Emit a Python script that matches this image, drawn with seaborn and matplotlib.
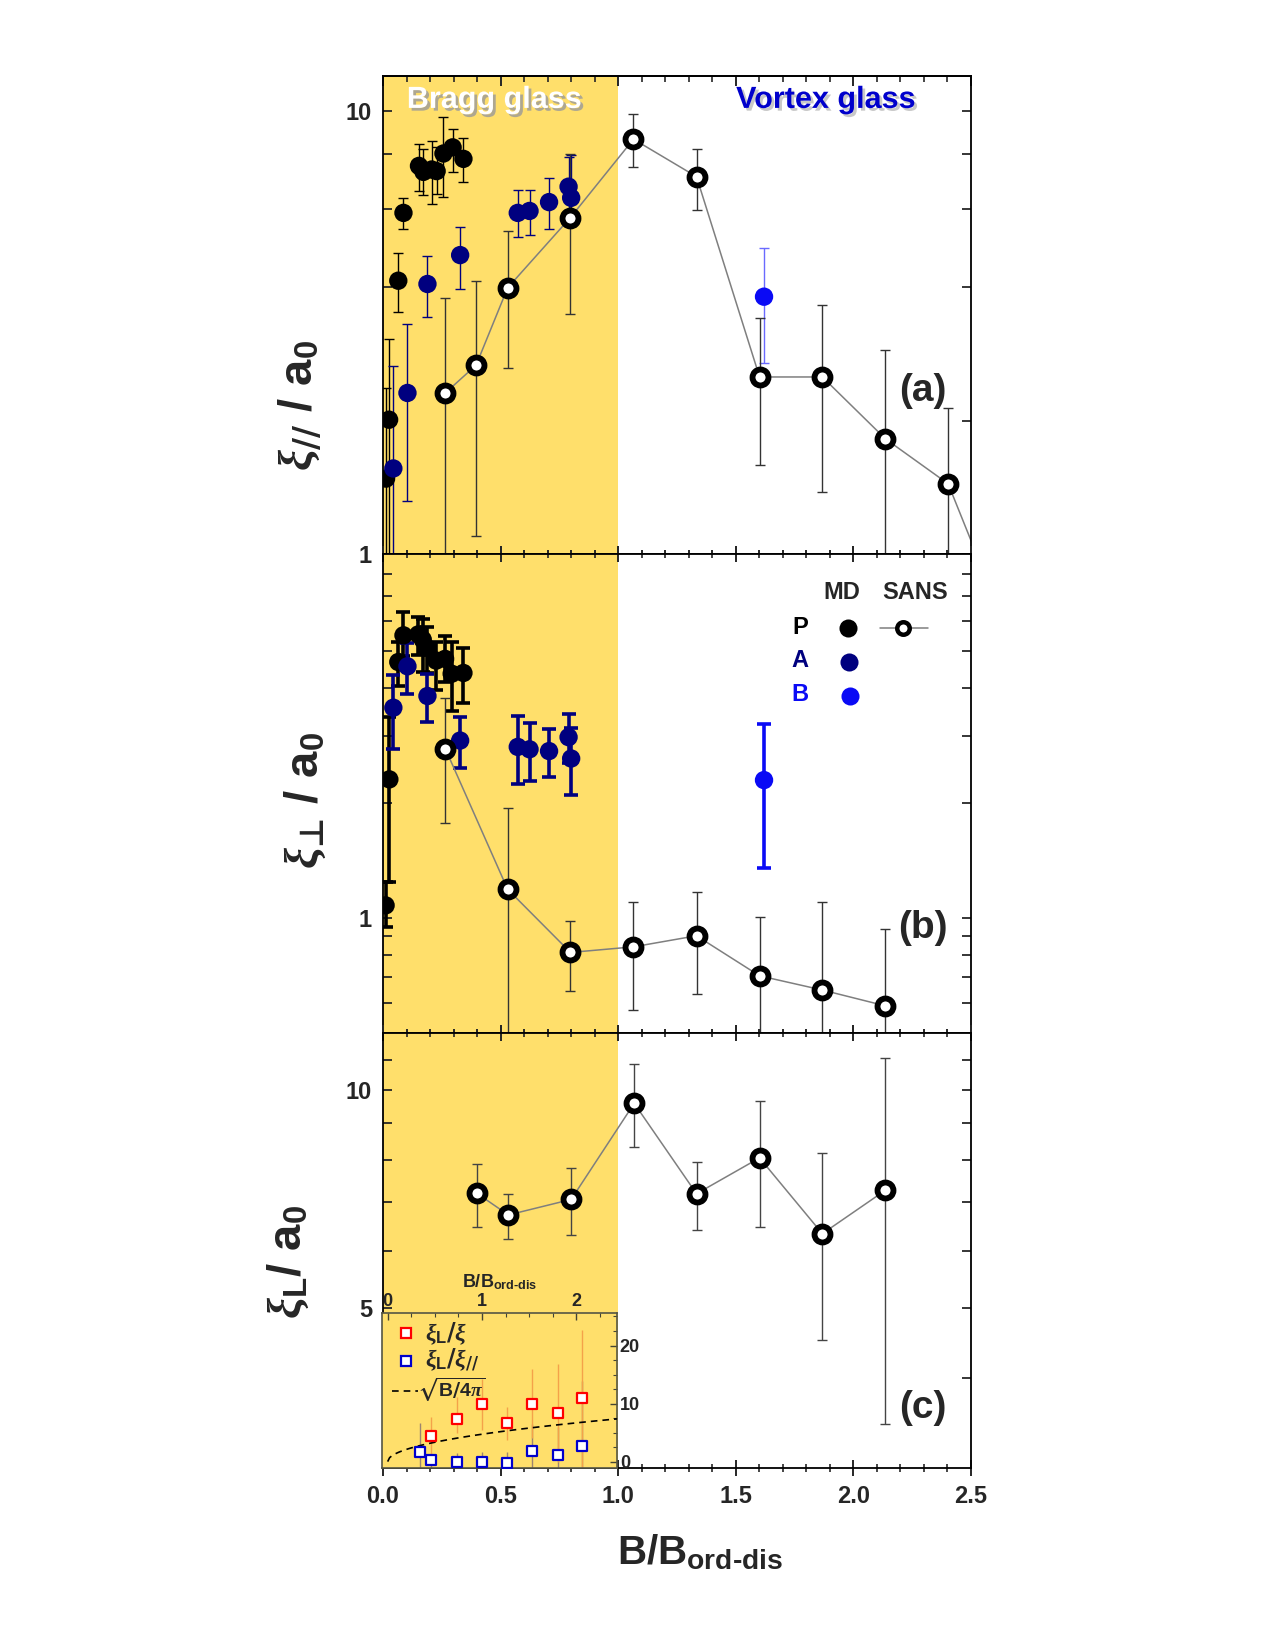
import numpy as np
import matplotlib
matplotlib.use('Agg')
import matplotlib.pyplot as plt
import matplotlib.ticker as mticker
import matplotlib.patheffects as pe
import seaborn as sns

# ---------------- data ----------------
# panel (a): xi_parallel / a0
a_P_x = [0.013, 0.026, 0.065, 0.087, 0.153, 0.172, 0.207, 0.228, 0.257, 0.296, 0.342]
a_P_y = [1.48, 2.01, 4.14, 5.89, 7.52, 7.29, 7.38, 7.32, 8.02, 8.28, 7.80]
a_P_hi = [2.37, 3.05, 4.77, 6.38, 8.41, 8.23, 8.57, 8.30, 9.69, 9.12, 8.68]
a_P_lo = [0.5, 0.5, 3.51, 5.41, 6.61, 6.46, 6.16, 6.50, 6.39, 7.28, 6.90]

a_A_x = [0.044, 0.104, 0.189, 0.328, 0.573, 0.623, 0.706, 0.789, 0.800]
a_A_y = [1.56, 2.31, 4.07, 4.73, 5.89, 5.95, 6.23, 6.75, 6.37]
a_A_hi = [2.66, 3.30, 4.71, 5.47, 6.63, 6.65, 7.05, 7.86, 7.95]
a_A_lo = [0.5, 1.32, 3.42, 3.96, 5.20, 5.25, 5.41, 5.90, 5.50]

a_B_x = [1.62]
a_B_y = [3.81]
a_B_hi = [4.91]
a_B_lo = [2.70]

a_S_x = [0.265, 0.396, 0.530, 0.797, 1.065, 1.333, 1.601, 1.868, 2.136, 2.403, 2.670]
a_S_y = [2.31, 2.67, 3.99, 5.75, 8.64, 7.11, 2.51, 2.51, 1.82, 1.44, 0.64]
a_S_hi = [3.79, 4.14, 5.35, 7.98, 9.86, 8.21, 3.41, 3.64, 2.89, 2.14, 0.90]
a_S_lo = [0.5, 1.10, 2.63, 3.49, 7.46, 5.98, 1.59, 1.38, 0.5, 0.5, 0.40]

# panel (b): xi_perp / a0
b_P_x = [0.011, 0.027, 0.065, 0.087, 0.150, 0.169, 0.186, 0.226, 0.264, 0.292, 0.342]
b_P_y = [1.08, 2.31, 4.69, 5.51, 5.54, 5.37, 5.11, 4.73, 4.78, 4.37, 4.39]
b_P_hi = [1.24, 3.36, 5.30, 6.34, 6.15, 6.07, 5.80, 5.30, 5.48, 5.30, 5.11]
b_P_lo = [0.95, 1.24, 4.05, 4.85, 4.90, 4.41, 4.40, 3.95, 4.16, 3.49, 3.66]

b_A_x = [0.044, 0.104, 0.189, 0.328, 0.573, 0.623, 0.706, 0.789, 0.800]
b_A_y = [3.56, 4.57, 3.82, 2.92, 2.81, 2.77, 2.74, 2.98, 2.62]
b_A_hi = [4.33, 5.27, 4.37, 3.36, 3.39, 3.25, 3.14, 3.43, 3.15]
b_A_lo = [2.77, 3.87, 3.26, 2.47, 2.24, 2.29, 2.34, 2.55, 2.10]

b_B_x = [1.62]
b_B_y = [2.30]
b_B_hi = [3.22]
b_B_lo = [1.357]

b_S_x = [0.265, 0.530, 0.797, 1.065, 1.333, 1.601, 1.868, 2.136]
b_S_y = [2.78, 1.19, 0.813, 0.841, 0.899, 0.706, 0.648, 0.589]
b_S_hi = [3.78, 1.94, 0.984, 1.10, 1.17, 1.004, 1.10, 0.934]
b_S_lo = [1.78, 0.3, 0.644, 0.576, 0.631, 0.3, 0.3, 0.3]

# panel (c): xi_L / a0
c_S_x = [0.399, 0.533, 0.800, 1.068, 1.333, 1.601, 1.868, 2.136]
c_S_y = [7.20, 6.72, 7.06, 9.59, 7.19, 8.06, 6.33, 7.27]
c_S_hi = [7.91, 7.19, 7.81, 10.87, 7.96, 9.65, 8.18, 11.09]
c_S_lo = [6.47, 6.23, 6.30, 8.35, 6.40, 6.47, 4.51, 3.45]

# inset
in_R_x = [0.46, 0.73, 1.00, 1.26, 1.53, 1.80, 2.06]
in_R_y = [4.39, 7.35, 10.0, 6.60, 10.0, 8.40, 11.0]
in_R_hi = [7.6, 11.2, 14.3, 9.35, 16.0, 16.75, 22.7]
in_R_lo = [1.1, 4.9, 5.5, 3.8, 4.05, 0.0, -1.1]

in_B_x = [0.34, 0.46, 0.73, 1.00, 1.26, 1.53, 1.80, 2.06]
in_B_y = [1.6, 0.34, 0.0, -0.1, -0.2, 1.88, 1.2, 2.73]
in_B_hi = [6.7, 1.5, 1.5, 1.7, 1.6, 6.5, 6.0, 13.9]
in_B_lo = [-1.1, -1.1, -1.1, -1.1, -1.1, -1.1, -1.1, -1.1]

B_ORD_DIS = 280.0  # field scale used for sqrt(B/4pi) curve

x_ticks = [0.0, 0.5, 1.0, 1.5, 2.0, 2.5]
x_ticklabels = ['0.0', '0.5', '1.0', '1.5', '2.0', '2.5']

# ---------------- style ----------------
sns.set_theme(style='ticks')
plt.rcParams.update({
    'font.family': ['Liberation Sans', 'DejaVu Sans'],
    'font.weight': 'bold',
    'mathtext.fontset': 'custom',
    'mathtext.rm': 'DejaVu Sans',
    'mathtext.bf': 'Liberation Sans:bold',
    'mathtext.it': 'Liberation Serif:italic',
    'mathtext.sf': 'Liberation Sans:bold',
    'mathtext.fallback': 'stixsans',
    'axes.linewidth': 1.3,
    'axes.edgecolor': 'black',
})

YELLOW = '#FFDF6B'
NAVY = '#00007F'
BLUE = '#0A0AF5'
VBLUE = '#0000CC'

fig = plt.figure(figsize=(12.75, 16.5), dpi=100)
L, W = 383 / 1275, 588 / 1275


def rect(top, bottom):
    return [L, 1 - bottom / 1650, W, (bottom - top) / 1650]


ax_a = fig.add_axes(rect(76, 554))
ax_b = fig.add_axes(rect(554, 1033), sharex=ax_a)
ax_c = fig.add_axes(rect(1033, 1468), sharex=ax_a)


def err(ax, x, y, lo, hi, color, lw, cap, z):
    y = np.asarray(y, float)
    yerr = [y - np.asarray(lo, float), np.asarray(hi, float) - y]
    ax.errorbar(x, y, yerr=yerr, fmt='none', ecolor=color, elinewidth=lw,
                capsize=cap, capthick=lw, zorder=z)


def dots(ax, x, y, color, z, s=175):
    sns.scatterplot(x=x, y=y, ax=ax, color=color, s=s, edgecolor='none',
                    linewidth=0, zorder=z, legend=False)


def sans(ax, x, y):
    sns.lineplot(x=x, y=y, ax=ax, color='#7f7f7f', lw=1.1, marker='o',
                 markersize=11.5, markeredgewidth=4.2, markeredgecolor='black',
                 markerfacecolor='white', estimator=None, sort=False, zorder=6,
                 legend=False)


for ax in (ax_a, ax_b, ax_c):
    ax.axvspan(0, 1.0, color=YELLOW, lw=0, zorder=0)
    ax.set_yscale('log')

# panel (a)
err(ax_a, a_P_x, a_P_y, a_P_lo, a_P_hi, 'black', 1.0, 3.5, 2)
err(ax_a, a_A_x, a_A_y, a_A_lo, a_A_hi, NAVY, 1.0, 3.5, 2)
err(ax_a, a_B_x, a_B_y, a_B_lo, a_B_hi, '#6a6aff', 1.0, 3.5, 2)
err(ax_a, a_S_x, a_S_y, a_S_lo, a_S_hi, '#333333', 1.0, 3.5, 3)
dots(ax_a, a_P_x, a_P_y, 'black', 4)
dots(ax_a, a_A_x, a_A_y, NAVY, 4)
dots(ax_a, a_B_x, a_B_y, BLUE, 4)
sans(ax_a, a_S_x, a_S_y)
ax_a.set_ylim(1, 12)
ax_a.yaxis.set_major_locator(mticker.FixedLocator([1, 10]))
ax_a.yaxis.set_minor_locator(mticker.FixedLocator([2, 4, 6, 8]))

# panel (b)
err(ax_b, b_P_x, b_P_y, b_P_lo, b_P_hi, 'black', 2.6, 5, 2)
err(ax_b, b_A_x, b_A_y, b_A_lo, b_A_hi, NAVY, 2.6, 5, 2)
err(ax_b, b_B_x, b_B_y, b_B_lo, b_B_hi, BLUE, 2.6, 5, 2)
err(ax_b, b_S_x, b_S_y, b_S_lo, b_S_hi, '#333333', 1.0, 3.5, 3)
dots(ax_b, b_P_x, b_P_y, 'black', 4)
dots(ax_b, b_A_x, b_A_y, NAVY, 4)
dots(ax_b, b_B_x, b_B_y, BLUE, 4)
sans(ax_b, b_S_x, b_S_y)
ax_b.set_ylim(0.5, 9)
ax_b.yaxis.set_major_locator(mticker.FixedLocator([1]))
ax_b.yaxis.set_minor_locator(mticker.FixedLocator([0.6, 0.7, 0.8, 0.9, 2, 3, 4, 5, 6, 7, 8]))

# panel (c)
err(ax_c, c_S_x, c_S_y, c_S_lo, c_S_hi, '#444444', 1.0, 3.5, 3)
sans(ax_c, c_S_x, c_S_y)
ax_c.set_ylim(3, 12)
ax_c.yaxis.set_major_locator(mticker.FixedLocator([5, 10]))
ax_c.yaxis.set_minor_locator(mticker.FixedLocator([4, 6, 7, 8, 9, 11]))

for ax in (ax_a, ax_b, ax_c):
    ax.set_xlim(0, 2.5)
    ax.yaxis.set_major_formatter(mticker.FuncFormatter(lambda v, p: '%g' % v))
    ax.yaxis.set_minor_formatter(mticker.NullFormatter())
    ax.xaxis.set_major_locator(mticker.FixedLocator(x_ticks))
    ax.xaxis.set_minor_locator(mticker.MultipleLocator(0.1))
    ax.tick_params(axis='x', which='major', direction='inout', length=12, width=1.4,
                   top=True, bottom=True)
    ax.tick_params(axis='x', which='minor', direction='inout', length=6, width=1.2,
                   top=True, bottom=True)
    ax.tick_params(axis='y', which='both', direction='in', length=6.5, width=1.3,
                   left=True, right=True, labelsize=17, pad=8)
    ax.set_xlabel('')
    ax.set_ylabel('')
    for sp in ax.spines.values():
        sp.set_linewidth(1.3)
        sp.set_zorder(10)

# top edge of panel (a): inward ticks only
ax_a.tick_params(axis='x', which='both', top=False, labelbottom=False)
sec = ax_a.secondary_xaxis('top')
sec.xaxis.set_major_locator(mticker.FixedLocator(x_ticks))
sec.xaxis.set_minor_locator(mticker.MultipleLocator(0.1))
sec.tick_params(axis='x', which='major', direction='in', length=7, width=1.4, labeltop=False)
sec.tick_params(axis='x', which='minor', direction='in', length=4, width=1.2)
sec.spines['top'].set_linewidth(1.3)

ax_b.tick_params(axis='x', labelbottom=False)
ax_c.set_xticks(x_ticks)
ax_c.set_xticklabels(x_ticklabels)
ax_c.tick_params(axis='x', labelsize=17, pad=6)

# texts
shadow = [pe.withSimplePatchShadow(offset=(2, -2), shadow_rgbFace='#9a9a9a', alpha=0.8)]
ax_a.text(0.189, 0.95, 'Bragg glass', transform=ax_a.transAxes, ha='center', va='center',
          fontsize=22, fontweight='bold', color='white', path_effects=shadow, zorder=12)
ax_a.text(0.753, 0.95, 'Vortex glass', transform=ax_a.transAxes, ha='center', va='center',
          fontsize=22, fontweight='bold', color=VBLUE,
          path_effects=[pe.withSimplePatchShadow(offset=(2, -2), shadow_rgbFace='#bbbbbb', alpha=0.8)],
          zorder=12)
ax_a.text(0.918, 0.341, '(a)', transform=ax_a.transAxes, ha='center', va='center',
          fontsize=28, fontweight='bold', zorder=12)
ax_b.text(0.918, 0.219, '(b)', transform=ax_b.transAxes, ha='center', va='center',
          fontsize=28, fontweight='bold', zorder=12)
ax_c.text(0.918, 0.138, '(c)', transform=ax_c.transAxes, ha='center', va='center',
          fontsize=28, fontweight='bold', zorder=12)

# legend in panel (b)
tb = ax_b.transAxes
ax_b.text(0.781, 0.920, 'MD', transform=tb, ha='center', va='center', fontsize=17, fontweight='bold')
ax_b.text(0.905, 0.920, 'SANS', transform=tb, ha='center', va='center', fontsize=17, fontweight='bold')
ax_b.text(0.709, 0.846, 'P', transform=tb, ha='center', va='center', fontsize=17, fontweight='bold', color='black')
ax_b.text(0.709, 0.777, 'A', transform=tb, ha='center', va='center', fontsize=17, fontweight='bold', color=NAVY)
ax_b.text(0.709, 0.706, 'B', transform=tb, ha='center', va='center', fontsize=17, fontweight='bold', color=BLUE)
ax_b.plot([0.791], [0.846], 'o', transform=tb, color='black', ms=13, mew=0, clip_on=False)
ax_b.plot([0.793], [0.775], 'o', transform=tb, color=NAVY, ms=13, mew=0, clip_on=False)
ax_b.plot([0.794], [0.704], 'o', transform=tb, color=BLUE, ms=13, mew=0, clip_on=False)
ax_b.plot([0.845, 0.927], [0.846, 0.846], '-', transform=tb, color='#7f7f7f', lw=1.1)
ax_b.plot([0.884], [0.846], 'o', transform=tb, ms=9, mew=3.2, mec='black', mfc='white')

# y labels and x label
fig.text(300 / 1275, 1 - 405 / 1650, r'$\xi_{//}$ / $\mathbf{a}_{\mathbf{0}}$', rotation=90,
         ha='center', va='center', fontsize=34, fontweight='bold')
fig.text(305 / 1275, 1 - 800 / 1650, '$\\xi_{\u22a5}$ / $\\mathbf{a}_{\\mathbf{0}}$', rotation=90,
         ha='center', va='center', fontsize=34, fontweight='bold')
fig.text(288 / 1275, 1 - 1262 / 1650, r'$\xi_{\mathbf{L}}$/ $\mathbf{a}_{\mathbf{0}}$', rotation=90,
         ha='center', va='center', fontsize=34, fontweight='bold')
fig.text(700 / 1275, 1 - 1552 / 1650, 'B/B$_{\\mathbf{ord\u2010dis}}$', ha='center', va='center',
         fontsize=29, fontweight='bold')

# ---------------- inset ----------------
ax_in = fig.add_axes([382 / 1275, 1 - 1468 / 1650, 235 / 1275, 155 / 1650])
ax_in.set_facecolor(YELLOW)
err(ax_in, in_B_x, in_B_y, in_B_lo, in_B_hi, '#9c8470', 1.0, 0, 2)
err(ax_in, in_R_x, in_R_y, in_R_lo, in_R_hi, '#F4A24A', 1.0, 0, 2)
xc = np.linspace(0, 2.43, 120)
sns.lineplot(x=xc, y=np.sqrt(xc * B_ORD_DIS / (4 * np.pi)), ax=ax_in, color='black',
             lw=1.2, ls=(0, (4, 3)), estimator=None, sort=False, zorder=3, legend=False)
sns.scatterplot(x=in_R_x, y=in_R_y, ax=ax_in, marker='s', s=42, facecolor='white',
                edgecolor='#FF0000', linewidth=1.6, zorder=4, legend=False)
sns.scatterplot(x=in_B_x, y=in_B_y, ax=ax_in, marker='s', s=42, facecolor='white',
                edgecolor='#0000CC', linewidth=1.6, zorder=4, legend=False)
ax_in.set_xlim(-0.06, 2.43)
ax_in.set_ylim(-1.1, 25.6)
ax_in.xaxis.tick_top()
ax_in.xaxis.set_label_position('top')
ax_in.yaxis.tick_right()
ax_in.xaxis.set_major_locator(mticker.FixedLocator([0, 1, 2]))
ax_in.xaxis.set_minor_locator(mticker.MultipleLocator(0.25))
ax_in.yaxis.set_major_locator(mticker.FixedLocator([0, 10, 20]))
ax_in.yaxis.set_minor_locator(mticker.MultipleLocator(2.5))
ax_in.tick_params(which='both', direction='in', color='#444433', labelsize=13, pad=2)
ax_in.tick_params(which='major', length=5, width=1.0)
ax_in.tick_params(which='minor', length=3, width=0.8)
ax_in.set_xlabel('B/B$_{\\mathbf{ord\u2010dis}}$', fontsize=13, fontweight='bold', labelpad=4)
ax_in.set_ylabel('')
for sp in ax_in.spines.values():
    sp.set_color('#555544')
    sp.set_linewidth(1.2)

ti = ax_in.transAxes
ax_in.plot([0.101], [0.874], 's', transform=ti, ms=7, mew=1.6, mec='#FF0000', mfc='white')
ax_in.plot([0.101], [0.690], 's', transform=ti, ms=7, mew=1.6, mec='#0000CC', mfc='white')
ax_in.plot([0.041, 0.154], [0.500, 0.500], transform=ti, color='black', lw=1.2, ls=(0, (4, 3)))
ax_in.text(0.183, 0.865, r'$\xi_{\mathbf{L}}/\xi$', transform=ti, ha='left', va='center', fontsize=17)
ax_in.text(0.183, 0.700, r'$\xi_{\mathbf{L}}/\xi_{//}$', transform=ti, ha='left', va='center', fontsize=17)
ax_in.text(0.150, 0.505, r'$\sqrt{\mathbf{B}/\mathbf{4}\pi}$', transform=ti, ha='left', va='center', fontsize=14)

fig.savefig('out.png', dpi=100)
